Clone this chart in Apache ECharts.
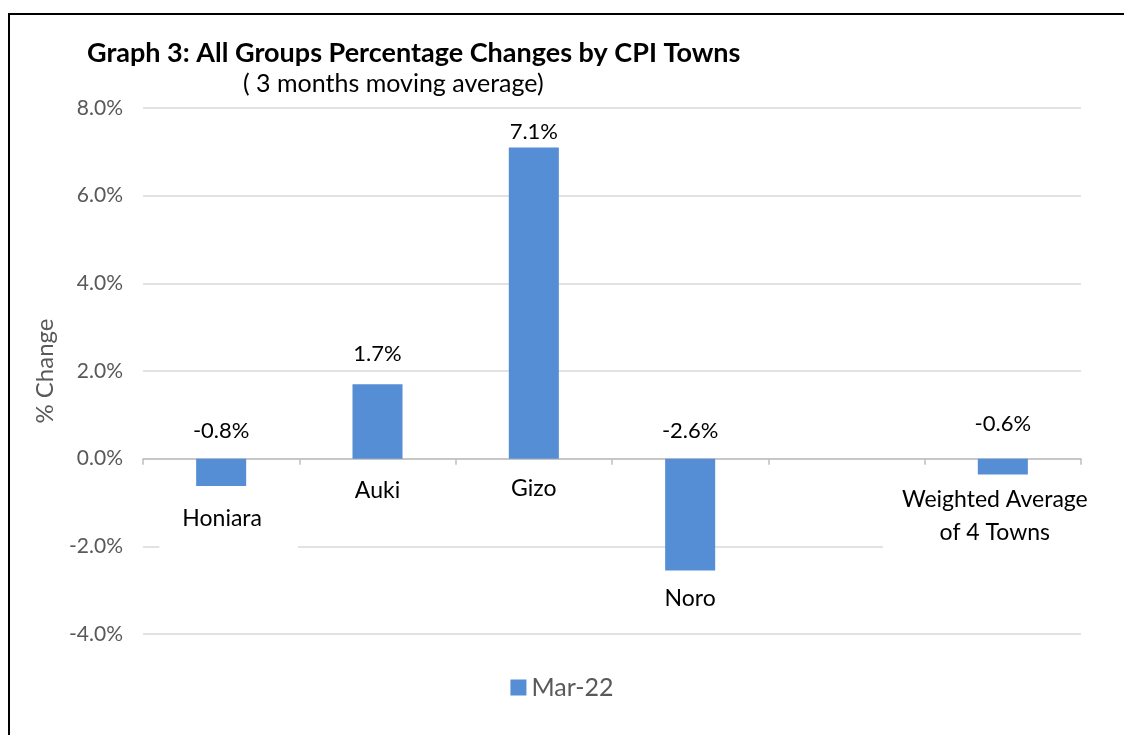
<!DOCTYPE html>
<html>
<head>
<meta charset="utf-8">
<title>Graph 3</title>
<script src="https://cdn.jsdelivr.net/npm/echarts@6/dist/echarts.min.js"></script>
<style>
  html, body { margin: 0; padding: 0; background: #fff; }
  #main { width: 1124px; height: 735px; }
</style>
</head>
<body>
<div id="main"></div>
<script>
// data
var towns = ['Honiara', 'Auki', 'Gizo', 'Noro', '', 'Weighted Average\nof 4 Towns'];
var mar22 = [-0.68, 1.7, 7.1, -2.55, null, -0.36];
var mar22Labels = ['-0.8%', '1.7%', '7.1%', '-2.6%', '', '-0.6%'];
var yTicks = [-4, 8, 2]; // min, max, step

// manual label placement (like the Excel data labels)
var valueDy = [-28, -30, -16, -28, 0, -35];
var nameDy = [30, 32, 30, 28, 0, 42];
var nameDx = [7.5, 0, 0, 0, 0, -8];
var namePad = [[10, 36, 22, 23], 0, 0, 0, 0, [4, 19, 8, 19]];

var FONT = 'Lato, "Open Sans", sans-serif';
var chart = echarts.init(document.getElementById('main'));

var labelData = towns.map(function (t, i) { return [i, mar22[i]]; });

chart.setOption({
    animation: false,
    textStyle: { fontFamily: FONT },
    title: [{
        text: 'Graph 3: All Groups Percentage Changes by CPI Towns',
        left: 82, top: 35,
        textStyle: { fontSize: 27, fontWeight: 'bold', color: '#000', fontFamily: FONT }
    }, {
        text: '( 3 months moving average)',
        left: 238, top: 66,
        textStyle: { fontSize: 25, fontWeight: 'normal', color: '#000', fontFamily: FONT }
    }],
    legend: {
        bottom: 30, left: 'center',
        icon: 'rect', itemWidth: 16, itemHeight: 16, itemGap: 6,
        textStyle: { fontSize: 25, color: '#595959', fontFamily: FONT },
        data: ['Mar-22']
    },
    grid: { left: 143, right: 43, top: 108, bottom: 101 },
    xAxis: {
        type: 'category',
        data: towns,
        axisLine: { onZero: true, lineStyle: { color: '#bfbfbf', width: 1.5 } },
        axisTick: { show: true, interval: 0, length: 6, lineStyle: { color: '#bfbfbf', width: 1.5 } },
        axisLabel: { show: false }
    },
    yAxis: {
        type: 'value',
        min: yTicks[0], max: yTicks[1], interval: yTicks[2],
        name: '% Change',
        nameLocation: 'middle', nameRotate: 90, nameGap: 86,
        nameTextStyle: { fontSize: 24, color: '#595959', fontFamily: FONT },
        axisLine: { show: false },
        axisTick: { show: false },
        axisLabel: {
            fontSize: 21, color: '#595959', margin: 20, fontFamily: FONT,
            formatter: function (v) { return v.toFixed(1) + '%'; }
        },
        splitLine: { lineStyle: { color: '#d9d9d9', width: 1.5 } }
    },
    series: [{
        name: 'Mar-22',
        type: 'bar',
        data: mar22,
        barWidth: '32%',
        itemStyle: { color: '#558ed5' }
    }, {
        type: 'custom',
        data: labelData,
        z: 5,
        renderItem: function (params, api) {
            var i = api.value(0);
            var v = mar22[i];
            if (v == null) return null;
            var top = api.coord([i, Math.max(0, v)]);
            var bot = api.coord([i, Math.min(0, v)]);
            var pad = namePad[i];
            return {
                type: 'group',
                children: [{
                    type: 'text',
                    style: {
                        x: top[0], y: top[1] + valueDy[i],
                        text: mar22Labels[i],
                        fill: '#000', fontSize: 22, fontFamily: FONT,
                        align: 'center', verticalAlign: 'middle'
                    }
                }, {
                    type: 'text',
                    style: {
                        x: bot[0] + nameDx[i], y: bot[1] + nameDy[i],
                        text: towns[i],
                        fill: '#000', fontSize: 23, fontFamily: FONT, lineHeight: 33,
                        align: 'center', verticalAlign: 'middle',
                        backgroundColor: pad ? '#fff' : null,
                        padding: pad || 0
                    }
                }]
            };
        }
    }],
    graphic: [{
        type: 'rect',
        shape: { x: 9, y: 14, width: 1200, height: 800 },
        style: { fill: null, stroke: '#000', lineWidth: 2 },
        silent: true
    }]
});
</script>
</body>
</html>
